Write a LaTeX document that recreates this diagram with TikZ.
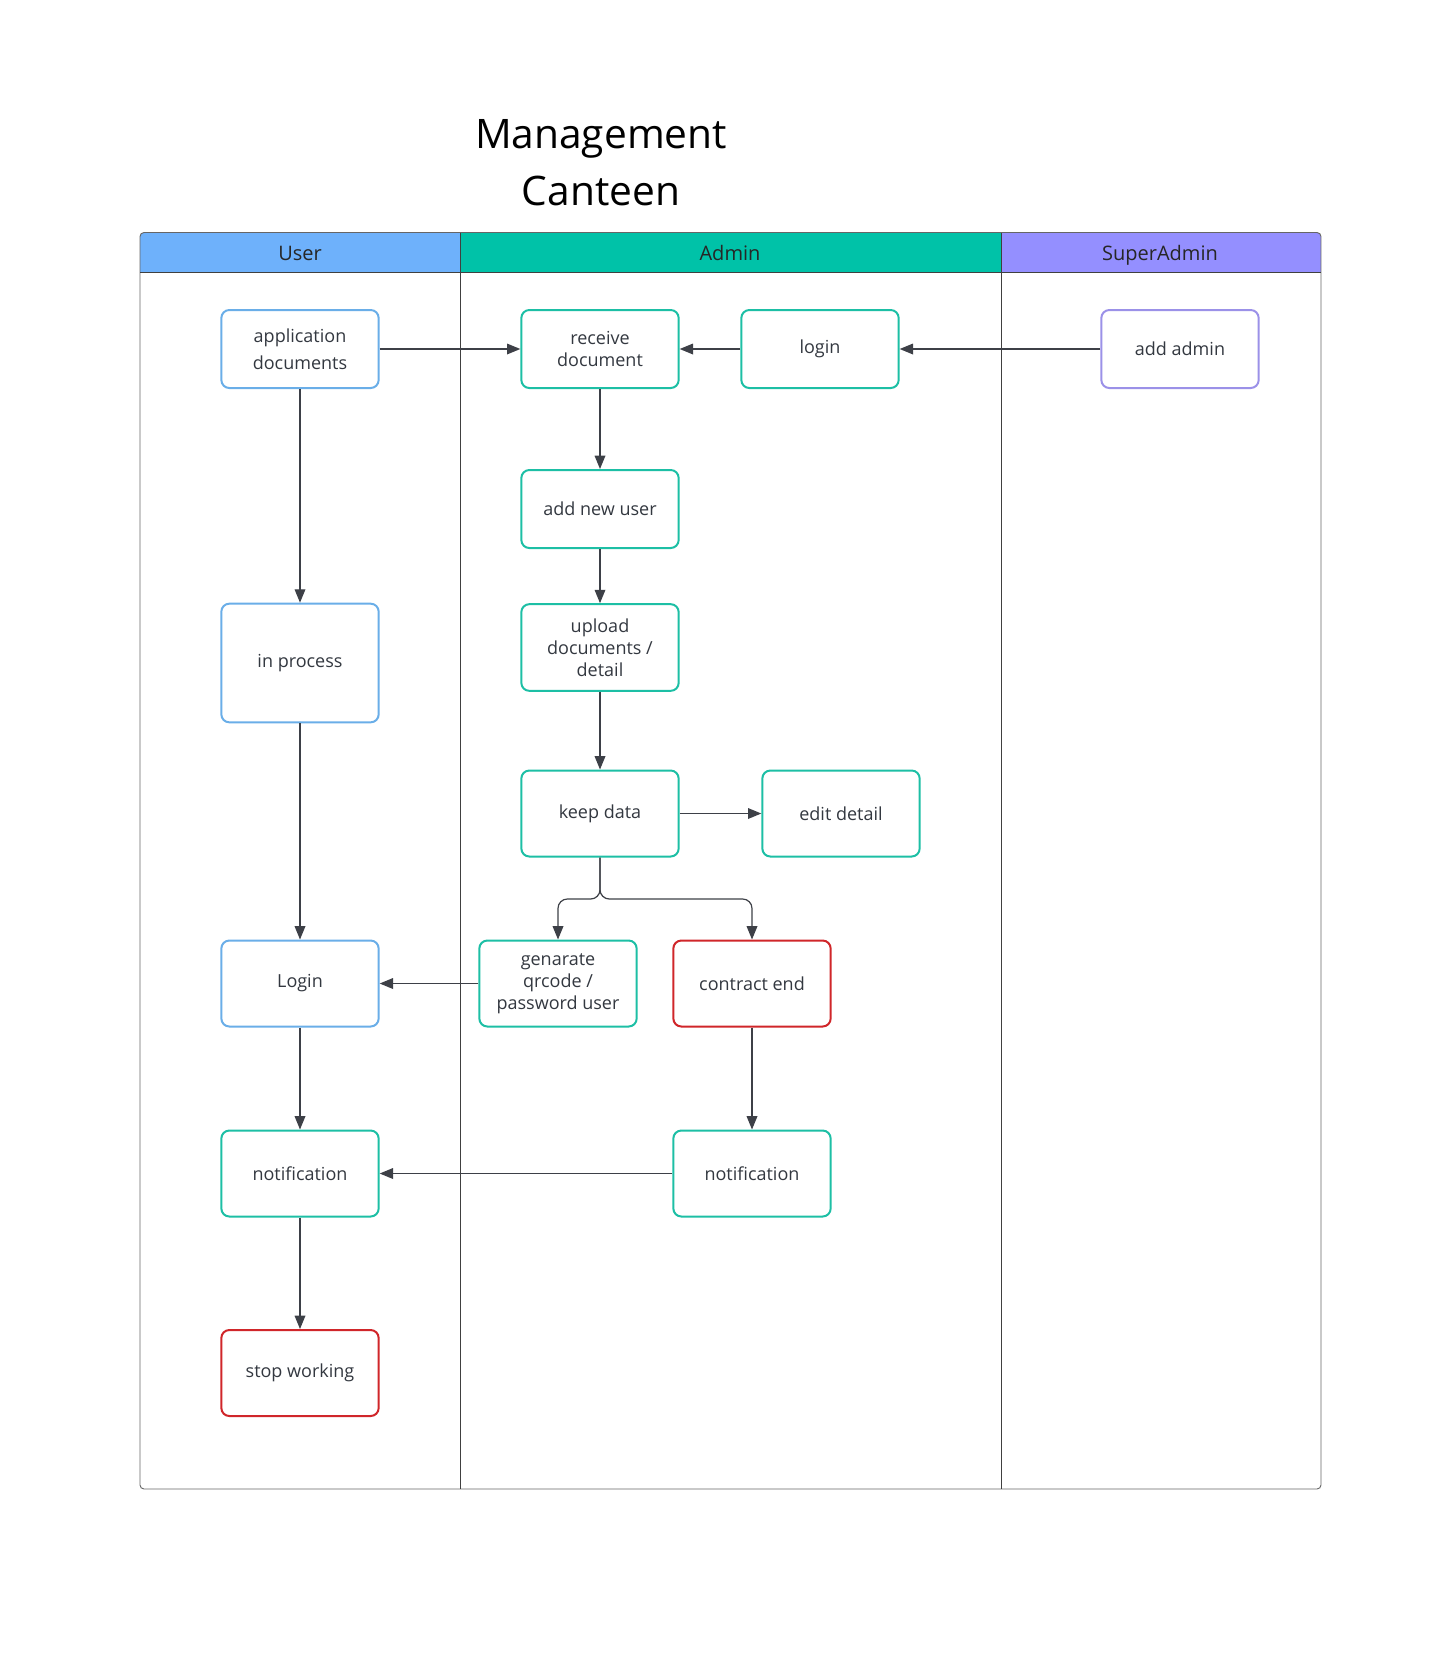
\documentclass[tikz,border=0pt]{standalone}
\usepackage{fontspec}
\setmainfont{Open Sans}
\usetikzlibrary{arrows.meta}
\definecolor{txt}{HTML}{333840}
\definecolor{linec}{HTML}{3D4047}
\definecolor{userhd}{HTML}{6EB1FB}
\definecolor{adminhd}{HTML}{00C2A8}
\definecolor{superhd}{HTML}{948FFF}
\definecolor{userbd}{HTML}{6AAEE8}
\definecolor{adminbd}{HTML}{1DBFA5}
\definecolor{superbd}{HTML}{9B91E8}
\definecolor{redbd}{HTML}{D0262A}

\begin{document}
\begin{tikzpicture}[
    x=0.75pt, y=-0.75pt,
    box/.style={
        draw,
        fill=white,
        rounded corners=6pt,
        line width=1.5pt,
        minimum width=118pt,
        minimum height=58.5pt,
        align=center,
        text=txt,
        font=\fontsize{13.5}{16.5}\selectfont
    },
    userbox/.style={box, draw=userbd},
    adminbox/.style={box, draw=adminbd},
    superbox/.style={box, draw=superbd},
    endbox/.style={box, draw=redbd},
    arr/.style={-{Triangle[length=10pt,width=8pt]}, draw=linec, line width=0.9pt},
    lane/.style={font=\fontsize{15}{18}\selectfont, text=black!85, text depth=0pt, text height=11pt}
]
\useasboundingbox (0,0) rectangle (1449,1664);

% title
\node[font=\fontsize{30.5}{38}\selectfont, align=center] (title) at (601,163)
    {Management\\[5pt]Canteen};

% swimlanes
\begin{scope}
    \clip[rounded corners=3pt] (140,232.5) rectangle (1321,1489);
    \fill[userhd] (140,232.5) rectangle (460,272);
    \fill[adminhd] (460,232.5) rectangle (1001,272);
    \fill[superhd] (1001,232.5) rectangle (1321,272);
\end{scope}
\draw[black!60, line width=0.7pt, rounded corners=3pt] (140,232.5) rectangle (1321,1489);
\draw[black!75, line width=0.7pt] (140,272) -- (1321,272);
\draw[black!75, line width=0.7pt] (460,232.5) -- (460,1489);
\draw[black!75, line width=0.7pt] (1001,232.5) -- (1001,1489);
\node[lane] (userlane) at (300,253) {User};
\node[lane] (adminlane) at (730,253) {Admin};
\node[lane] (superlane) at (1160,253) {SuperAdmin};

% user lane
\node[userbox, font=\fontsize{13.5}{20}\selectfont] (appdoc) at (300,349) {application\\documents};
\node[userbox, minimum height=89pt] (inproc) at (300,663) {in process};
\node[userbox, minimum height=64.5pt] (ulogin) at (300,983.5) {Login};
\node[adminbox, minimum height=64.5pt] (unotif) at (300,1173.5) {notification};
\node[endbox, minimum height=64.5pt] (stop) at (300,1373) {stop working};

% admin lane
\node[adminbox] (receive) at (600,349) {receive\\document};
\node[adminbox] (alogin) at (820,349) {login};
\node[adminbox] (newuser) at (600,509) {add new user};
\node[adminbox, minimum height=65pt] (upload) at (600,647.5) {upload\\documents /\\detail};
\node[adminbox, minimum height=64.5pt] (keep) at (600,813.5) {keep data};
\node[adminbox, minimum height=64.5pt] (edit) at (841,813.5) {edit detail};
\node[adminbox, minimum height=64.5pt] (gen) at (558,983.5) {genarate\\qrcode /\\password user};
\node[endbox, minimum height=64.5pt] (contract) at (752,983.5) {contract end};
\node[adminbox, minimum height=64.5pt] (anotif) at (752,1173.5) {notification};

% superadmin lane
\node[superbox] (addadmin) at (1180,349) {add admin};

% connectors
\draw[arr] (appdoc) -- (receive);
\draw[arr] (alogin) -- (receive);
\draw[arr] (addadmin) -- (alogin);
\draw[arr] (receive) -- (newuser);
\draw[arr] (newuser) -- (upload);
\draw[arr] (upload) -- (keep);
\draw[arr] (keep) -- (edit);
\coordinate (split) at (600,899);
\draw[arr, rounded corners=7pt] (keep.south) -- (split) -| (gen.north);
\draw[arr, rounded corners=7pt] (keep.south) -- (split) -| (contract.north);
\draw[arr] (gen) -- (ulogin);
\draw[arr] (contract) -- (anotif);
\draw[arr] (anotif) -- (unotif);
\draw[arr] (appdoc) -- (inproc);
\draw[arr] (inproc) -- (ulogin);
\draw[arr] (ulogin) -- (unotif);
\draw[arr] (unotif) -- (stop);
\end{tikzpicture}
\end{document}
